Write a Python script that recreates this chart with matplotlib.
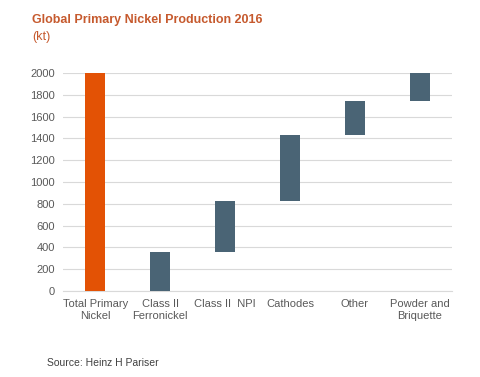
import numpy as np
import matplotlib.pyplot as plt

plt.rcParams['font.family'] = ['Liberation Sans', 'DejaVu Sans']

categories = ['Total Primary\nNickel', 'Class II\nFerronickel', 'Class II  NPI',
              'Cathodes', 'Other', 'Powder and\nBriquette']
total = 2000
parts = [360, 470, 600, 310, 260]
yticks = list(range(0, 2001, 200))

heights = [total] + parts
bottoms = [0] + list(np.cumsum([0] + parts[:-1]))
colors = ['#E35205'] + ['#4A6475'] * len(parts)

fig = plt.figure(figsize=(4.8, 3.77), dpi=100)
ax = fig.add_axes([63/480, 1 - 291/377, (452-63)/480, (291-73)/377])

x = np.arange(len(categories))
ax.bar(x, heights, bottom=bottoms, width=0.31, color=colors, zorder=3)

ax.set_xlim(-0.5, len(categories) - 0.5)
ax.set_ylim(0, 2000)
ax.set_yticks(yticks)
ax.set_xticks(x)
ax.set_xticklabels(categories, fontsize=8, color='#595959', linespacing=1.25)
ax.tick_params(axis='y', labelsize=8, labelcolor='#595959', length=0, pad=6)
ax.tick_params(axis='x', length=0, pad=6)
ax.grid(axis='y', color='#D9D9D9', linewidth=0.8, zorder=0)
for s in ['top', 'right', 'left']:
    ax.spines[s].set_visible(False)
ax.spines['bottom'].set_color('#D9D9D9')
ax.spines['bottom'].set_linewidth(0.8)

fig.text(32/480, 1 - 20/377, 'Global Primary Nickel Production 2016',
         fontsize=9, fontweight='bold', color='#C65A2E', va='center')
fig.text(32/480, 1 - 37/377, '(kt)', fontsize=9, color='#C65A2E', va='center')
fig.text(47/480, 1 - 363/377, 'Source: Heinz H Pariser', fontsize=7.5,
         color='#404040', va='center')

fig.savefig('out.png', dpi=100)
